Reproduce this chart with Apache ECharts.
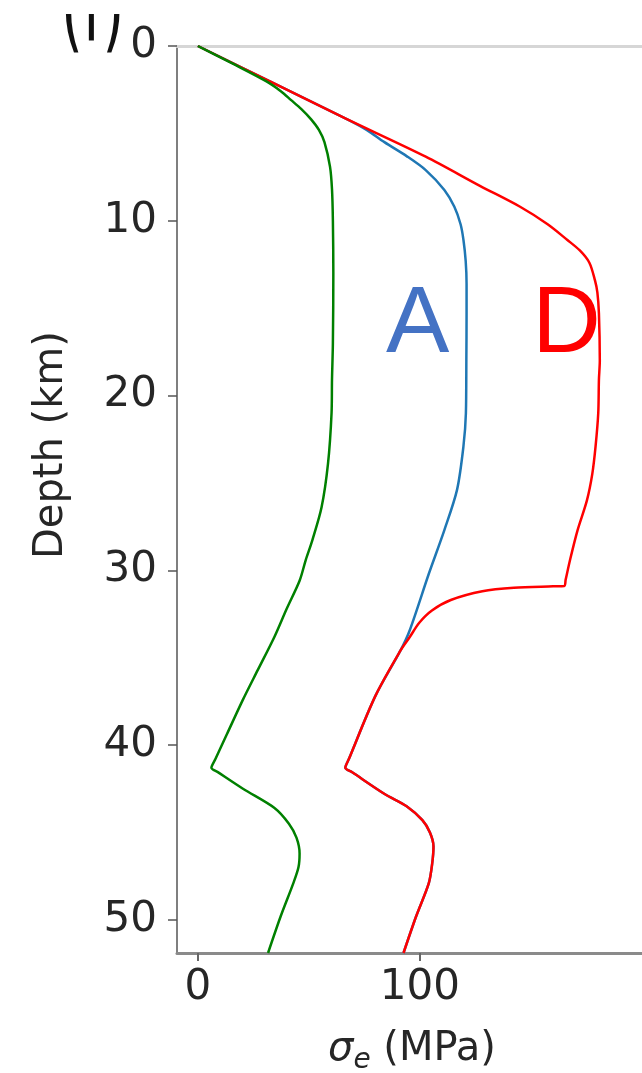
<!DOCTYPE html>
<html>
<head>
<meta charset="utf-8">
<script src="https://cdn.jsdelivr.net/npm/echarts@6/dist/echarts.min.js"></script>
<style>
  html, body { margin: 0; padding: 0; background: #fff; }
  #chart { width: 642px; height: 1073px; }
</style>
</head>
<body>
<div id="chart"></div>
<script>
// values: stress (MPa) against depth (km)
const greenDepth  = [0, 1.0, 2.0, 2.6, 3.1, 3.6, 4.2, 4.8, 5.5, 6.9, 8.2, 10, 13, 17, 19.1, 21, 23.9, 26.4, 28.3, 29.4, 30.6, 32.2, 33.8, 35.7, 37.4, 39.4, 40.8, 41.3, 41.55, 42.5, 43.6, 44.5, 45.3, 46.2, 47.0, 47.9, 49.8, 51.9];
const greenStress = [0, 15.5, 30.5, 37.5, 42, 46.5, 51, 54.5, 57, 59.5, 60.4, 60.8, 61, 60.8, 60.4, 60.2, 58.6, 55.7, 51.5, 48.6, 45.8, 40, 34.5, 27, 20.3, 13, 7.9, 6.1, 9, 20.3, 34.5, 41, 44.4, 45.8, 45.3, 43, 37.3, 31.6];

const aDepth  = [0, 2.0, 4.14, 4.8, 5.5, 6.3, 7.1, 8.24, 9.2, 10.2, 11.1, 12.3, 13.6, 15.3, 18, 21, 22.9, 25.4, 27.7, 30.2, 33.4, 34.6, 37.2, 40.8, 41.3, 41.56, 42.8, 43.5, 44.3, 45.0, 45.8, 46.8, 47.9, 49.8, 51.9];
const aStress = [0, 32, 66.4, 76, 84, 94, 102.6, 111, 115.5, 118.3, 119.6, 120.6, 121, 121, 120.9, 120.7, 119.6, 116.7, 111, 104, 95.5, 91.2, 79.9, 68, 66.4, 69.5, 84.1, 94, 101.1, 104.5, 106.1, 105.5, 104, 98.3, 92.6];

const dDepth  = [0, 2.0, 4.14, 6.33, 8.0, 9.2, 10.2, 11.1, 11.7, 12.4, 13.4, 14.1, 15.3, 18, 19.1, 21, 22.9, 24.5, 26.0, 27.7, 29.3, 30.55, 30.9, 30.92, 31.0, 31.2, 31.7, 32.3, 33.0, 33.8, 34.6, 37.2, 40.8, 41.3, 41.56, 42.8, 43.5, 44.3, 45.0, 45.8, 46.8, 47.9, 49.8, 51.9];
const dStress = [0, 32, 66.4, 102.6, 127, 145.1, 157.5, 166.4, 172, 176.3, 178.8, 179.9, 180.6, 181, 180.6, 180.3, 179.1, 177.6, 175.2, 171, 167.8, 165.6, 165, 160, 142.3, 128.1, 113.9, 105.4, 99.7, 95.5, 91.2, 79.9, 68, 66.4, 69.5, 84.1, 94, 101.1, 104.5, 106.1, 105.5, 104, 98.3, 92.6];

const xTicks = [0, 100];
const yTicks = [0, 10, 20, 30, 40, 50];

const labelNames  = ['A', 'D'];
const labelStress = [99, 166];
const labelDepth  = [16, 16];
const labelColors = ['#4472C4', '#FF0000'];

const pairs = (xs, ys) => xs.map((x, i) => [x, ys[i]]);

const chart = echarts.init(document.getElementById('chart'));

const tickFont = { fontFamily: 'DejaVu Sans', fontSize: 42, color: '#262626' };

chart.setOption({
  animation: false,
  grid: { left: 177, top: 46, bottom: 120, right: -27, containLabel: false },
  xAxis: [
    {
      type: 'value', position: 'bottom', min: -9.4, max: 200,
      splitLine: { show: false },
      axisLine: { onZero: false, lineStyle: { color: '#8a8a8a', width: 3 } },
      axisTick: { show: true, length: 8, customValues: xTicks, lineStyle: { color: '#666', width: 2 } },
      axisLabel: Object.assign({ margin: 14, customValues: xTicks }, tickFont)
    },
    {
      type: 'value', position: 'top', min: -9.4, max: 200,
      splitLine: { show: false },
      axisLine: { onZero: false, lineStyle: { color: '#d6d6d6', width: 3 } },
      axisTick: { show: false },
      axisLabel: { show: false }
    }
  ],
  yAxis: {
    type: 'value', inverse: true, min: 0, max: 51.9,
    splitLine: { show: false },
    axisLine: { onZero: false, lineStyle: { color: '#555', width: 1.5 } },
    axisTick: { show: true, length: 9, customValues: yTicks, lineStyle: { color: '#555', width: 1.5 } },
    axisLabel: Object.assign({ margin: 20, customValues: yTicks }, tickFont)
  },
  series: [
    {
      name: 'A', type: 'line', data: pairs(aStress, aDepth), showSymbol: false, smooth: 0.3,
      lineStyle: { color: '#1f77b4', width: 2.5 }
    },
    {
      name: 'D', type: 'line', data: pairs(dStress, dDepth), showSymbol: false, smooth: 0.3,
      lineStyle: { color: '#ff0000', width: 2.5 }
    },
    {
      name: 'green', type: 'line', data: pairs(greenStress, greenDepth), showSymbol: false, smooth: 0.3,
      lineStyle: { color: '#008000', width: 2.5 }
    },
    {
      type: 'scatter', symbolSize: 0, silent: true,
      itemStyle: { opacity: 1 },
      data: labelNames.map((n, i) => ({
        name: n, value: [labelStress[i], labelDepth[i]],
        label: { color: labelColors[i] }
      })),
      label: {
        show: true, position: 'inside', formatter: '{b}', opacity: 1,
        fontFamily: 'Liberation Sans', fontSize: 95
      }
    }
  ],
  graphic: [
    {
      // panel letter, cut off by the top edge of the figure
      type: 'text', x: 61, y: 63, scaleY: 1.65, z: 10,
      style: { text: '(f)', fontFamily: 'DejaVu Sans', fontSize: 56, fill: '#111', verticalAlign: 'bottom' }
    },
    { type: 'rect', shape: { x: 0, y: 0, width: 170, height: 14 }, style: { fill: '#fff' }, z: 20 },
    {
      type: 'text', x: 52, y: 445, rotation: Math.PI / 2,
      style: {
        text: 'Depth (km)', fontFamily: 'DejaVu Sans', fontSize: 40, fill: '#262626',
        align: 'center', verticalAlign: 'middle'
      }
    },
    {
      type: 'text', x: 412, y: 1050,
      style: {
        text: '{s|σ}{e|e} (MPa)',
        fontFamily: 'DejaVu Sans', fontSize: 40, fill: '#262626',
        align: 'center', verticalAlign: 'middle',
        rich: {
          s: { fontFamily: 'DejaVu Sans', fontSize: 40, fontStyle: 'italic', fill: '#262626' },
          e: { fontFamily: 'DejaVu Sans', fontSize: 28, fontStyle: 'italic', fill: '#262626', padding: [22, 0, 0, 0] }
        }
      }
    }
  ]
});

window.addEventListener('resize', () => chart.resize());
</script>
</body>
</html>
